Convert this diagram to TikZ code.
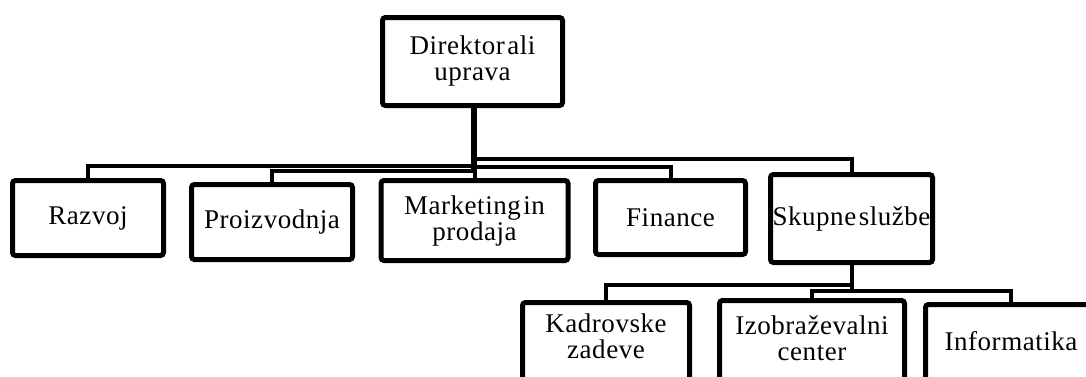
\documentclass[tikz,border=0pt]{standalone}
\usepackage{fontspec}
\setmainfont[WordSpace=0.35,LetterSpace=2]{Liberation Serif}
\newcommand{\boxfont}{\fontsize{27}{26}\selectfont}
\begin{document}
\begin{tikzpicture}[x=1pt,y=-1pt,
  unit/.style={draw=black, line width=5pt, rounded corners=3pt, fill=white,
    align=center, inner sep=0pt, font=\boxfont},
  unitlabel/.style={align=center, inner sep=0pt, font=\boxfont, anchor=base},
  link/.style={draw=black, line width=4pt}]
\useasboundingbox (0,0) rectangle (1086,376);
\fill[white] (0,0) rectangle (1086,376);
\clip (0,0) rectangle (1086,376);

% top management
\node[unit, minimum width=180pt, minimum height=88pt] (dir) at (472.5,61.5) {Direktor ali\\uprava};

% departments
\node[unit, minimum width=151pt, minimum height=75pt] (razvoj) at (88,218) {Razvoj};
\node[unit, minimum width=161pt, minimum height=75pt] (proiz) at (272,222) {Proizvodnja};
\node[unit, minimum width=187pt, minimum height=80pt] (market) at (474.5,220.5) {Marketing in\\prodaja};
\node[unit, minimum width=150pt, minimum height=74pt] (fin) at (670.5,217.5) {Finance};
\node[unit, minimum width=162pt, minimum height=88pt] (skup) at (851.5,218.5) {Skupne službe};

% connectors from the management to the departments
\draw[link] (dir.south) |- (razvoj.north |- 0,166) -- (razvoj.north);
\draw[link] (dir.south) |- (proiz.north |- 0,171) -- (proiz.north);
\draw[link] (market.north) -- (market.north |- dir.south);
\draw[link] (dir.south) |- (fin.north |- 0,167) -- (fin.north);
\draw[link] (dir.south) |- (skup.north |- 0,159) -- (skup.north);

% common services sub-units (their lower edges run below the page)
\node[unit, minimum width=167pt, minimum height=150pt] (kad) at (606,377.5) {};
\node[unit, minimum width=185pt, minimum height=150pt] (izob) at (812,375.5) {};
\node[unit, minimum width=171pt, minimum height=150pt] (info) at (1011,379.5) {};
\node[unitlabel] (kadT) at (606,358) {Kadrovske\\zadeve};
\node[unitlabel] (izobT) at (812,360) {Izobraževalni\\center};
\node[unitlabel] (infoT) at (1011,350) {Informatika};

\draw[link] (skup.south) |- (kad.north |- 0,285) -- (kad.north);
\draw[link] (skup.south) |- (izob.north |- 0,291) -- (izob.north);
\draw[link] (skup.south) |- (info.north |- 0,291) -- (info.north);
\end{tikzpicture}
\end{document}
